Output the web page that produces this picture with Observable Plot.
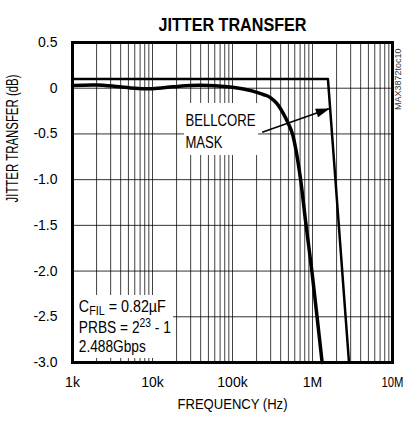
<!DOCTYPE html>
<html>
<head>
<meta charset="utf-8">
<script src="https://cdn.jsdelivr.net/npm/d3@7"></script>
<script src="https://cdn.jsdelivr.net/npm/@observablehq/plot@0.6"></script>
<style>
  html, body { margin: 0; padding: 0; background: #fff; }
  #chart { width: 403px; height: 423px; }
  svg { font-family: "Liberation Sans", Arial, Helvetica, sans-serif; }
</style>
</head>
<body>
<div id="chart"></div>
<script>
// ---- data ----
const title = "JITTER TRANSFER";
const xLabel = "FREQUENCY (Hz)";
const yLabel = "JITTER TRANSFER (dB)";
const sideNote = "MAX3872toc10";

const xTicks = [1e3, 1e4, 1e5, 1e6, 1e7];
const xTickLabels = ["1k", "10k", "100k", "1M", "10M"];
const yTicks = [0.5, 0, -0.5, -1.0, -1.5, -2.0, -2.5, -3.0];
const yTickLabels = ["0.5", "0", "-0.5", "-1.0", "-1.5", "-2.0", "-2.5", "-3.0"];
const decades = [1e3, 1e4, 1e5, 1e6];
const minorMultipliers = [2, 3, 4, 5, 6, 7, 8, 9];

// measured jitter transfer (Hz, dB)
const curveFreq = [1000, 2000, 3500, 6000, 10000, 18000, 30000, 50000, 100000, 168000, 224000, 274000, 300000, 362000, 434000, 501000, 562000, 613000, 708000, 818000, 991000, 1150000, 1320000];
const curveDb   = [0.03, 0.035, 0.02, 0.0, -0.005, 0.015, 0.03, 0.03, 0.01, -0.025, -0.06, -0.085, -0.105, -0.17, -0.28, -0.39, -0.5, -0.65, -0.99, -1.45, -2.03, -2.53, -3.0];

// Bellcore mask (Hz, dB)
const maskFreq = [1000, 1560000, 2860000];
const maskDb   = [0.1, 0.1, -3.0];

// annotations
const bellcoreLines = ["BELLCORE", "MASK"];
const bellcoreFreq = 25800;
const bellcoreDb = [-0.36, -0.6];
const noteLines = ["CFIL = 0.82µF", "PRBS = 223 - 1", "2.488Gbps"];
const noteFreq = 1200;
const noteDb = [-2.395, -2.625, -2.833];
const arrowFrom = [235000, -0.481];
const arrowTo = [1600000, -0.225];
const boxes = [
  {x1: 25100, x2: 211000, y1: -0.167, y2: -0.736},
  {x1: 1000, x2: 18300, y1: -2.267, y2: -2.956}
];

// ---- build ----
const curve = curveFreq.map((f, i) => ({f, db: curveDb[i]}));
const mask = maskFreq.map((f, i) => ({f, db: maskDb[i]}));
const gridX = decades.flatMap(d => [d, ...minorMultipliers.map(m => d * m)]).filter(v => v > 1e3);
const gridY = yTicks.filter(v => v < 0.5 && v > -3);
const xLab = new Map(xTicks.map((v, i) => [v, xTickLabels[i]]));
const yLab = new Map(yTicks.map((v, i) => [v, yTickLabels[i]]));

const chart = Plot.plot({
  width: 403,
  height: 423,
  marginTop: 42,
  marginLeft: 72,
  marginRight: 11,
  marginBottom: 61,
  x: {type: "log", domain: [1e3, 1e7]},
  y: {domain: [-3, 0.5]},
  style: {fontSize: "14px", color: "#000", background: "#fff"},
  marks: [
    Plot.ruleX(gridX, {stroke: "#000", strokeOpacity: 0.75, strokeWidth: 1}),
    Plot.ruleY(gridY, {stroke: "#000", strokeOpacity: 0.8, strokeWidth: 1}),
    Plot.rect(boxes, {x1: "x1", x2: "x2", y1: "y1", y2: "y2", fill: "#fff"}),
    Plot.frame({stroke: "#000", strokeWidth: 3}),
    Plot.axisX(xTicks, {tickSize: 0, tickPadding: 15, tickFormat: d => xLab.get(d), fontSize: 14, label: null}),
    Plot.axisY(yTicks, {tickSize: 0, tickPadding: 15, tickFormat: d => yLab.get(d), fontSize: 14, label: null}),
    Plot.line(mask, {x: "f", y: "db", stroke: "#000", strokeWidth: 2.5}),
    Plot.line(curve, {x: "f", y: "db", stroke: "#000", strokeWidth: 3.5, curve: "catmull-rom"}),
    Plot.text(bellcoreLines, {x: bellcoreFreq, y: (d, i) => bellcoreDb[i], text: d => d, textAnchor: "start", fontSize: 16}),
    Plot.text(noteLines, {x: noteFreq, y: (d, i) => noteDb[i], text: d => d, textAnchor: "start", fontSize: 16}),
    Plot.link([0], {x1: arrowFrom[0], y1: arrowFrom[1], x2: arrowTo[0], y2: arrowTo[1], stroke: "#000", strokeWidth: 1.5, className: "bellarrow"}),
    Plot.text([title], {frameAnchor: "top", dy: -25, fontSize: 19, fontWeight: "bold"}),
    Plot.text([xLabel], {frameAnchor: "bottom", dy: 46, fontSize: 15.5}),
    Plot.text([yLabel], {frameAnchor: "left", dx: -60, rotate: -90, fontSize: 16}),
    Plot.text([sideNote], {frameAnchor: "top-right", dx: 6, dy: 6, rotate: -90, textAnchor: "end", lineAnchor: "middle", fontSize: 9, fill: "#333"})
  ]
});

document.getElementById("chart").appendChild(chart);

const svg = d3.select(chart);

// condensed lettering: fit each label to the width it has in the reference
const targetWidths = new Map([
  [title, 148],
  [xLabel, 110],
  [yLabel, 128],
  ["BELLCORE", 70],
  ["MASK", 37],
  ["2.488Gbps", 67],
  ["CFIL = 0.82µF", 87],
  ["PRBS = 223 - 1", 92],
  ["10M", 22]
]);

// subscripts / superscripts
svg.selectAll("text").each(function() {
  const t = this.textContent;
  if (t === "CFIL = 0.82µF") {
    this.textContent = "";
    const s = d3.select(this);
    s.append("tspan").text("C");
    s.append("tspan").attr("dy", 3).attr("font-size", 12).text("FIL");
    s.append("tspan").attr("dy", -3).text(" = 0.82µF");
  } else if (t === "PRBS = 223 - 1") {
    this.textContent = "";
    const s = d3.select(this);
    s.append("tspan").text("PRBS = 2");
    s.append("tspan").attr("dy", -6).attr("font-size", 12).text("23");
    s.append("tspan").attr("dy", 6).text(" - 1");
  }
  if (targetWidths.has(t)) {
    this.setAttribute("textLength", targetWidths.get(t));
    this.setAttribute("lengthAdjust", "spacingAndGlyphs");
  }
});

// arrowhead marker
const defs = svg.insert("defs", ":first-child");
defs.append("marker")
  .attr("id", "bellhead")
  .attr("markerUnits", "userSpaceOnUse")
  .attr("viewBox", "-14 -6 16 12")
  .attr("refX", 0).attr("refY", 0)
  .attr("markerWidth", 16).attr("markerHeight", 12)
  .attr("orient", "auto")
  .append("path").attr("d", "M1,0L-13,-4.5L-13,4.5Z").attr("fill", "#000");
svg.selectAll(".bellarrow path, path.bellarrow, .bellarrow line").attr("marker-end", "url(#bellhead)");
</script>
</body>
</html>
